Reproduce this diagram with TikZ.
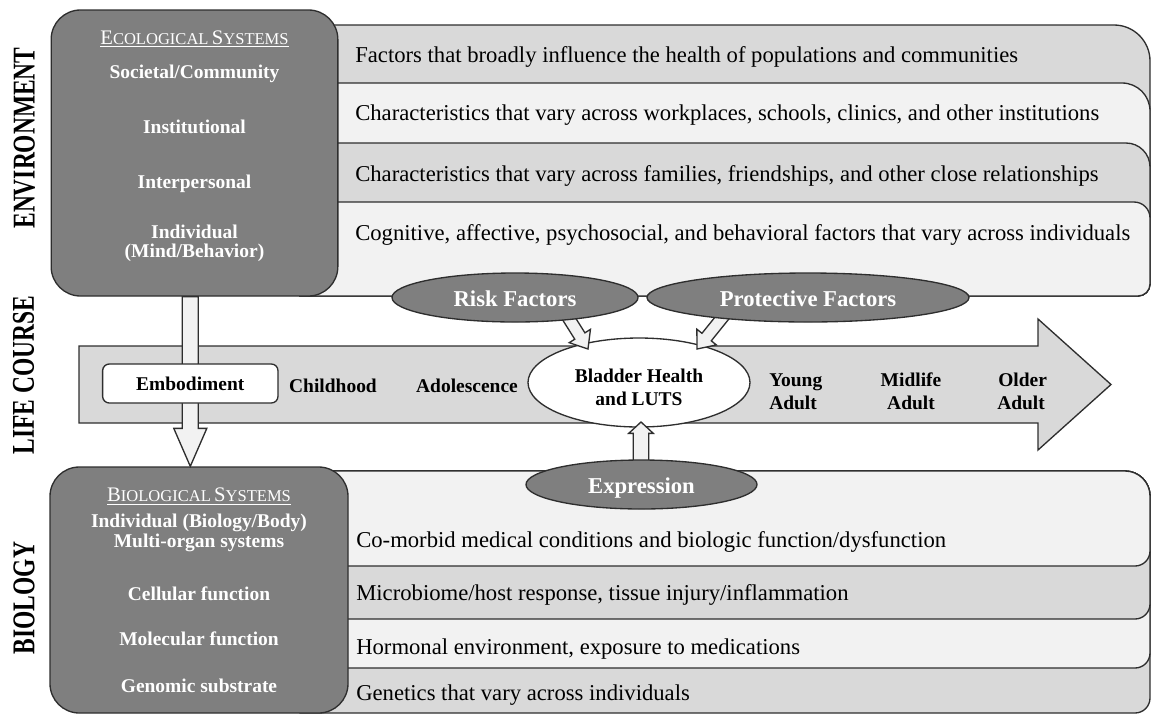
\documentclass[tikz,border=0pt]{standalone}
\usepackage{fontspec}
\usepackage{graphicx}
\setmainfont{Liberation Serif}
\usetikzlibrary{calc,shapes.geometric}
\definecolor{boxgray}{HTML}{7F7F7F}
\definecolor{rowgray}{HTML}{D9D9D9}
\definecolor{rowlight}{HTML}{F2F2F2}
\definecolor{edgecol}{HTML}{2E2E2E}
\newcommand\stackrow[5]{%
  \path[rowline,fill=#5] (300,#1) -- ({1150-#3},#1)
    .. controls ({1150-0.448*#3},#1) and (1150,{#1+0.448*#3}) .. (1150,{#1+#3})
    -- (1150,{#2-#4})
    .. controls (1150,{#2-0.448*#4}) and ({1150-0.448*#4},#2) .. ({1150-#4},#2)
    -- (300,#2) -- cycle;}
\newcommand\blockarrow[5]{%
  \coordinate (ba-hb) at ($(#2)!#5!(#1)$);
  \path[barrow] ($(#1)!#3!90:(#2)$) -- ($(ba-hb)!#3!-90:(#1)$) -- ($(ba-hb)!#4!-90:(#1)$) -- (#2)
    -- ($(ba-hb)!#4!90:(#1)$) -- ($(ba-hb)!#3!90:(#1)$) -- ($(#1)!#3!-90:(#2)$) -- cycle;}
\newcommand\scE[2]{{\fontsize{15.5}{18}\selectfont #1}{\fontsize{12.4}{15}\selectfont #2}}
\begin{document}
\begin{tikzpicture}[x=0.75pt,y=-0.75pt,
  rowline/.style={draw=edgecol,line width=1pt},
  darkbox/.style={draw=edgecol,fill=boxgray,line width=1pt,rounded corners=22pt,inner sep=0pt},
  rowtext/.style={anchor=base west,inner sep=0pt,font=\fontsize{17}{20}\selectfont},
  boxtext/.style={anchor=base,inner sep=0pt,text=white,font=\bfseries\fontsize{14.6}{17}\selectfont},
  sctext/.style={anchor=base,inner sep=0pt,text=white},
  sidelabel/.style={rotate=90,inner sep=0pt,font=\bfseries\fontsize{17.6}{20}\selectfont},
  oval/.style={ellipse,draw=edgecol,fill=boxgray,line width=1pt,inner sep=0pt,text=white,
    font=\bfseries\fontsize{17}{20}\selectfont,text height=12.8pt,text depth=0pt},
  lctext/.style={anchor=base,inner sep=0pt,font=\bfseries\fontsize{14.6}{17}\selectfont},
  lcwest/.style={lctext,anchor=base west},
  barrow/.style={draw=edgecol,fill=rowlight,line width=1pt,line join=miter},
]
\useasboundingbox (0,0) rectangle (1152,715);
% environment stack
\stackrow{25}{296}{36}{12}{rowgray}
\stackrow{83}{296}{28}{12}{rowlight}
\stackrow{143}{296}{24}{12}{rowgray}
\stackrow{202}{296}{16}{12}{rowlight}
% biology stack
\stackrow{471}{713}{25}{15}{rowgray}
\stackrow{471}{668}{25}{15}{rowlight}
\stackrow{471}{619}{25}{15}{rowgray}
\stackrow{471}{566}{25}{15}{rowlight}
% dark boxes
\node[darkbox,minimum width=215pt,minimum height=214.5pt] (envbox) at (194.5,153) {};
\node[darkbox,minimum width=223.5pt,minimum height=184.5pt] (biobox) at (199,590) {};
% life course arrow
\path[draw=edgecol,fill=rowgray,line width=1pt,line join=miter] (79,346) -- (1038,346) -- (1038,319)
  -- (1111,384.5) -- (1038,450) -- (1038,423) -- (79,423) -- cycle;
% bladder
\node[ellipse,draw=edgecol,fill=white,line width=1pt,minimum width=166.5pt,minimum height=66.75pt,inner sep=0pt] (bladder) at (639,382.5) {};
% arrows
\coordinate (embx) at (190.3,383.5);
\coordinate (dA) at (envbox.south -| embx);
\coordinate (dB) at (biobox.north -| embx);
\blockarrow{dA}{dB}{6pt}{12.4pt}{28.5pt}
\coordinate (rA) at (566,314);
\coordinate (rB) at (588,349);
\blockarrow{rA}{rB}{4.5pt}{9.4pt}{11.5pt}
\coordinate (pA) at (726,313);
\coordinate (pB) at (697,349);
\blockarrow{pA}{pB}{4.5pt}{9.4pt}{11.5pt}
\coordinate (eA) at (641,466);
\coordinate (eB) at (641,422);
\blockarrow{eA}{eB}{5.8pt}{9.2pt}{8.5pt}
% ovals
\node[oval,minimum width=184.5pt,minimum height=36.75pt] (risk) at (515,297.5) {Risk Factors};
\node[oval,minimum width=241.5pt,minimum height=36.75pt] (prot) at (808,297.5) {Protective Factors};
\node[oval,minimum width=173.25pt,minimum height=36.75pt] (expr) at (641.5,484.5) {Expression};
% embodiment
\node[draw=edgecol,fill=white,line width=1pt,rounded corners=5pt,minimum width=131.5pt,minimum height=29.25pt,
  inner sep=0pt,font=\bfseries\fontsize{14.6}{17}\selectfont,text height=9.8pt,text depth=0pt] (embod) at (embx) {Embodiment};
% life course labels
\node[lctext] (child) at (333,392) {Childhood};
\node[lctext] (adol) at (467,392) {Adolescence};
\node[lctext] (bl1) at (639,382.7) {Bladder Health};
\node[lctext] (bl2) at (639,405) {and LUTS};
\node[lcwest] (ya1) at (769,386.5) {Young};
\node[lcwest] (ya2) at (769,409) {Adult};
\node[lctext] (ma1) at (911,386.5) {Midlife};
\node[lctext] (ma2) at (911,409) {Adult};
\node[lcwest] (oa1) at (998,386.5) {Older};
\node[lcwest] (oa2) at (997,409) {Adult};
% side labels
\node[sidelabel] (lenv) at (24.5,138) {\scalebox{1}[1.35]{ENVIRONMENT}};
\node[sidelabel] (llife) at (23.5,375) {\scalebox{1}[1.35]{LIFE COURSE}};
\node[sidelabel] (lbio) at (24,598) {\scalebox{1}[1.35]{BIOLOGY}};
% environment box text
\node[sctext] (ecot) at (194.5,44.3) {\underline{\scE{E}{COLOGICAL} \scE{S}{YSTEMS}}};
\node[boxtext] (e1) at (194.5,78.3) {Societal/Community};
\node[boxtext] (e2) at (194.5,133.3) {Institutional};
\node[boxtext] (e3) at (194.5,188.3) {Interpersonal};
\node[boxtext] (e4) at (194.5,238) {Individual};
\node[boxtext] (e5) at (194.5,257.5) {(Mind/Behavior)};
% environment rows
\node[rowtext] (r1) at (355,62.7) {Factors that broadly influence the health of populations and communities};
\node[rowtext] (r2) at (355,120.7) {Characteristics that vary across workplaces, schools, clinics, and other institutions};
\node[rowtext] (r3) at (355,181.7) {Characteristics that vary across families, friendships, and other close relationships};
\node[rowtext] (r4) at (355,240) {Cognitive, affective, psychosocial, and behavioral factors that vary across individuals};
% biology box text
\node[sctext] (biot) at (199,501.7) {\underline{\scE{B}{IOLOGICAL} \scE{S}{YSTEMS}}};
\node[boxtext] (b1) at (199,527.5) {Individual (Biology/Body)};
\node[boxtext] (b2) at (199,547) {Multi-organ systems};
\node[boxtext] (b3) at (199,600.7) {Cellular function};
\node[boxtext] (b4) at (199,645.7) {Molecular function};
\node[boxtext] (b5) at (199,692.3) {Genomic substrate};
% biology rows
\node[rowtext] (s1) at (356,547.3) {Co-morbid medical conditions and biologic function/dysfunction};
\node[rowtext] (s2) at (356,600) {Microbiome/host response, tissue injury/inflammation};
\node[rowtext] (s3) at (356,654) {Hormonal environment, exposure to medications};
\node[rowtext] (s4) at (356,700.7) {Genetics that vary across individuals};
\end{tikzpicture}
\end{document}
